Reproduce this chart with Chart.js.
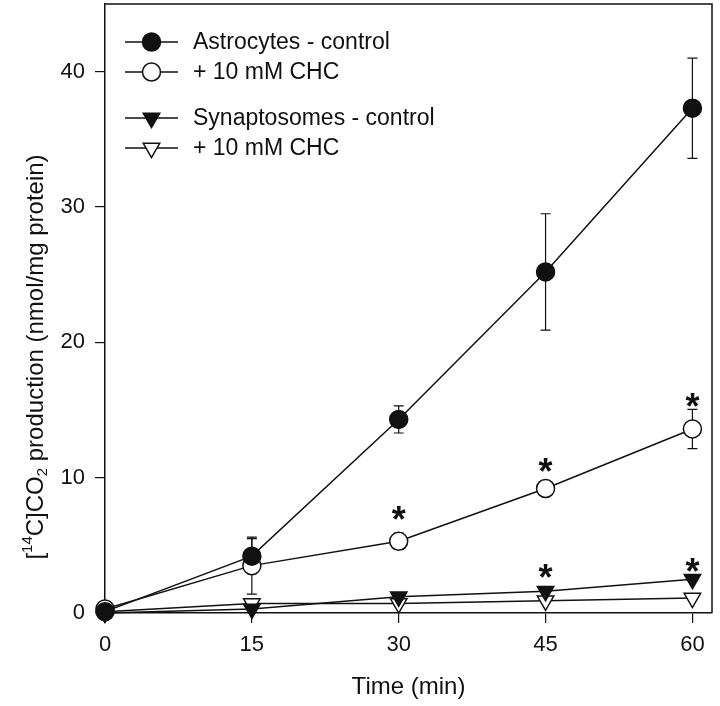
<!DOCTYPE html>
<html>
<head>
<meta charset="utf-8">
<script src="https://cdn.jsdelivr.net/npm/chart.js@4.4.0/dist/chart.umd.min.js"></script>
<style>
  html, body { margin: 0; padding: 0; background: #fff; }
  #wrap { width: 720px; height: 706px; }
</style>
</head>
<body>
<div id="wrap"><canvas id="c" width="720" height="706"></canvas></div>
<script>
// data
const times = [0, 15, 30, 45, 60];
const astroCtrl = [0.1, 4.2, 14.3, 25.2, 37.3];
const astroCtrlErr = [0, 1.3, 1.0, 4.3, 3.7];
const astroChc = [0.3, 3.5, 5.3, 9.2, 13.6];
const astroChcErr = [0, 2.1, 0.6, 0, 1.45];
const synCtrl = [0.0, 0.3, 1.2, 1.6, 2.5];
const synCtrlErr = [0, 0, 0.3, 0, 0];
const synChc = [0.1, 0.7, 0.7, 0.9, 1.1];
const synChcErr = [0, 0, 0, 0, 0];
const xTicks = [0, 15, 30, 45, 60];
const yTicks = [0, 10, 20, 30, 40];
// significance marks (*)
const starX = [30, 45, 60, 45, 60];
const starY = [7.5, 11.0, 15.8, 3.2, 3.6];

const FONT = "'Liberation Sans', Arial, sans-serif";
const INK = '#111';

function pts(vals) { return times.map((t, i) => ({ x: t, y: vals[i] })); }

function series(label, vals, errs, style, filled) {
  return {
    label, data: pts(vals), errs,
    borderColor: INK, borderWidth: 1.5,
    pointStyle: style, pointRotation: style === 'triangle' ? 180 : 0,
    pointRadius: style === 'triangle' ? 9.5 : 9,
    pointBackgroundColor: filled ? INK : '#fff',
    pointBorderColor: INK, pointBorderWidth: 1.5,
    tension: 0, clip: false
  };
}

const errorBars = {
  id: 'errorBars',
  beforeDatasetsDraw(chart) {
    const { ctx, scales: { x, y } } = chart;
    ctx.save();
    ctx.strokeStyle = INK; ctx.lineWidth = 1.2;
    chart.data.datasets.forEach(ds => {
      ds.data.forEach((p, i) => {
        const e = ds.errs[i];
        if (!e) return;
        const px = x.getPixelForValue(p.x);
        const y1 = y.getPixelForValue(p.y + e), y2 = y.getPixelForValue(p.y - e);
        ctx.beginPath();
        ctx.moveTo(px, y1); ctx.lineTo(px, y2);
        ctx.moveTo(px - 5, y1); ctx.lineTo(px + 5, y1);
        ctx.moveTo(px - 5, y2); ctx.lineTo(px + 5, y2);
        ctx.stroke();
      });
    });
    ctx.restore();
  }
};

const extras = {
  id: 'extras',
  afterDraw(chart) {
    const { ctx, chartArea: a, scales: { x, y } } = chart;
    ctx.save();
    // frame top/right
    ctx.strokeStyle = INK; ctx.lineWidth = 1.5;
    ctx.beginPath();
    ctx.moveTo(a.left, a.top); ctx.lineTo(a.right, a.top); ctx.lineTo(a.right, a.bottom);
    ctx.stroke();

    // asterisks
    ctx.fillStyle = INK;
    ctx.font = 'bold 36px ' + FONT;
    ctx.textAlign = 'center'; ctx.textBaseline = 'alphabetic';
    starX.forEach((sx, i) => {
      ctx.fillText('*', x.getPixelForValue(sx), y.getPixelForValue(starY[i]) + 20);
    });

    // legend
    const rows = [42, 72, 118, 148];
    ctx.font = '23px ' + FONT;
    ctx.textAlign = 'left'; ctx.textBaseline = 'middle';
    chart.data.datasets.forEach((ds, i) => {
      const ly = rows[i];
      ctx.strokeStyle = INK; ctx.lineWidth = 1.5;
      ctx.beginPath(); ctx.moveTo(125, ly); ctx.lineTo(178, ly); ctx.stroke();
      ctx.fillStyle = ds.pointBackgroundColor;
      Chart.helpers.drawPoint(ctx, {
        pointStyle: ds.pointStyle, rotation: ds.pointRotation,
        radius: ds.pointRadius, borderWidth: 1.5
      }, 151.5, ly);
      ctx.fillStyle = INK;
      ctx.fillText(ds.label, 193, ly + 1);
    });

    // y title with super/subscripts
    const parts = [
      ['[', 24, 0], ['14', 15, -8], ['C]CO', 24, 0], ['2', 15, 7],
      [' production (nmol/mg protein)', 24, 0]
    ];
    let total = 0;
    parts.forEach(p => { ctx.font = p[1] + 'px ' + FONT; total += ctx.measureText(p[0]).width; });
    ctx.translate(36, 357);
    ctx.rotate(-Math.PI / 2);
    ctx.textAlign = 'left'; ctx.textBaseline = 'middle';
    let cx = -total / 2;
    parts.forEach(p => {
      ctx.font = p[1] + 'px ' + FONT;
      ctx.fillText(p[0], cx, p[2]);
      cx += ctx.measureText(p[0]).width;
    });
    ctx.restore();
  }
};

Chart.defaults.font.family = FONT;
Chart.defaults.font.size = 22;
Chart.defaults.color = INK;

new Chart(document.getElementById('c'), {
  type: 'line',
  data: {
    datasets: [
      series('Astrocytes - control', astroCtrl, astroCtrlErr, 'circle', true),
      series('+ 10 mM CHC', astroChc, astroChcErr, 'circle', false),
      series('Synaptosomes - control', synCtrl, synCtrlErr, 'triangle', true),
      series('+ 10 mM CHC', synChc, synChcErr, 'triangle', false)
    ]
  },
  options: {
    responsive: false, animation: false, devicePixelRatio: 1,
    layout: { autoPadding: false, padding: { top: 4, right: 8, left: 0, bottom: 0 } },
    plugins: { legend: { display: false }, tooltip: { enabled: false } },
    scales: {
      x: {
        type: 'linear', min: 0, max: 62,
        afterBuildTicks: s => { s.ticks = xTicks.map(v => ({ value: v })); },
        afterFit: s => { s.height = 93; s.paddingLeft = 0; s.paddingRight = 0; },
        grid: { drawOnChartArea: false, drawTicks: true, tickLength: 10, color: INK, lineWidth: 1.2 },
        border: { display: true, color: INK, width: 1.5 },
        ticks: { padding: 9, font: { size: 22 } },
        title: { display: true, text: 'Time (min)', font: { size: 24 }, padding: { bottom: 4 } }
      },
      y: {
        min: 0, max: 45,
        afterBuildTicks: s => { s.ticks = yTicks.map(v => ({ value: v })); },
        afterFit: s => { s.width = 105; s.paddingTop = 0; s.paddingBottom = 0; },
        grid: { drawOnChartArea: false, drawTicks: true, tickLength: 10, color: INK, lineWidth: 1.2 },
        border: { display: true, color: INK, width: 1.5 },
        ticks: { padding: 10, font: { size: 22 } }
      }
    }
  },
  plugins: [errorBars, extras]
});
</script>
</body>
</html>
